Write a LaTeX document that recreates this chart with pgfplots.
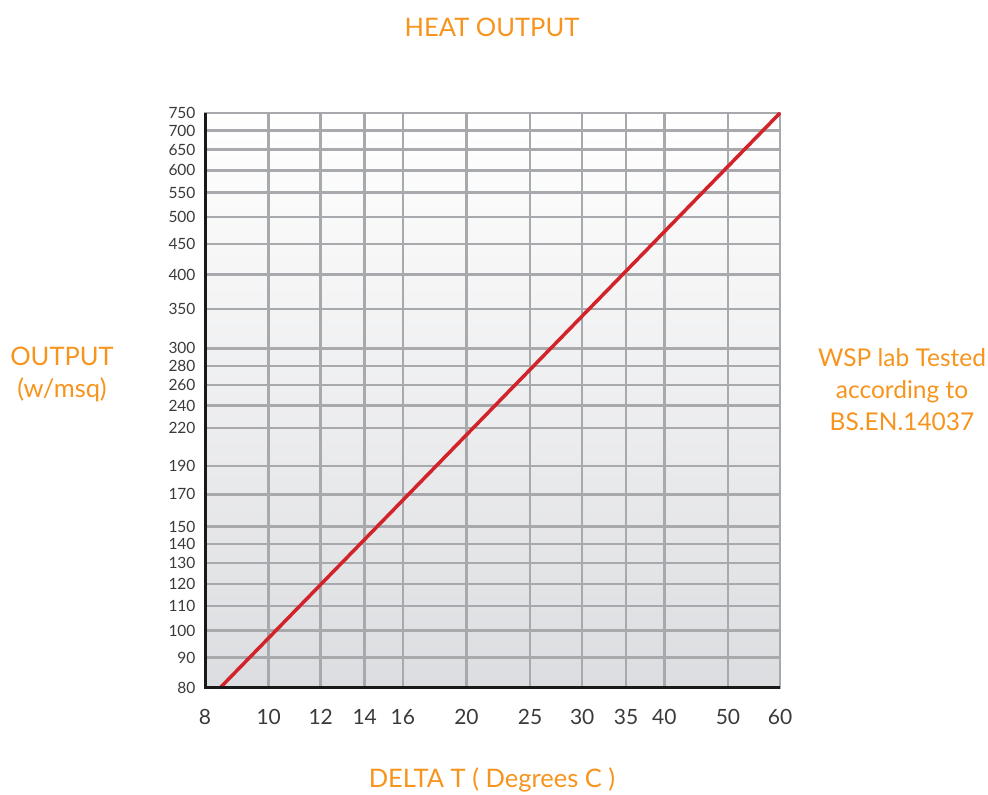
\documentclass[border=0pt]{standalone}
\usepackage{fontspec}
\setmainfont{Lato}
\usepackage{pgfplots}
\pgfplotsset{compat=1.18}
\definecolor{orng}{HTML}{F7941D}
\definecolor{gridc}{HTML}{A7A9AC}
\definecolor{redl}{HTML}{D2232A}
\definecolor{bgb}{HTML}{DCDDE0}
\definecolor{txt}{HTML}{3A3A3A}
\begin{document}
\begin{tikzpicture}
\path[use as bounding box] (-205pt,-107pt) rectangle (783pt,688pt);
\begin{axis}[
  at={(0pt,0pt)}, anchor=south west,
  scale only axis, width=575pt, height=575pt,
  xmode=log, ymode=log,
  xmin=8, xmax=60, ymin=80, ymax=750,
  xtick={8,10,12,14,16,20,25,30,35,40,50,60},
  xticklabels={8,10,12,14,16,20,25,30,35,40,50,60},
  ytick={80,90,100,110,120,130,140,150,170,190,220,240,260,280,300,350,400,450,500,550,600,650,700,750},
  yticklabels={80,90,100,110,120,130,140,150,170,190,220,240,260,280,300,350,400,450,500,550,600,650,700,750},
  minor tick num=0,
  major tick length=0pt,
  grid=major,
  major grid style={gridc, line width=2.5pt},
  axis line style={gridc, line width=2.5pt},
  axis background/.style={top color=white, bottom color=bgb},
  /pgf/number format/assume math mode=true,
  xticklabel style={font=\fontsize{21}{24}\selectfont, text=txt, yshift=-18pt},
  yticklabel style={font=\fontsize{15.5}{17}\selectfont, text=txt, xshift=-6pt},
  clip=false,
]
\addplot[redl, line width=3.5pt] coordinates {(8.43,80) (60,750)};
\draw[black!90, line width=3pt] (rel axis cs:0,1) -- (rel axis cs:0,0) -- (rel axis cs:1,0);
\end{axis}
\node[text=orng, font=\fontsize{25.5}{30}\selectfont] at (287pt,661pt) {HEAT OUTPUT};
\node[text=orng, font=\fontsize{25.5}{32}\selectfont, align=center] at (-143pt,314pt) {OUTPUT\\(w/msq)};
\node[text=orng, font=\fontsize{24.5}{32}\selectfont, align=center] at (697pt,298pt) {WSP lab Tested\\according to\\BS.EN.14037};
\node[text=orng, font=\fontsize{25.5}{30}\selectfont] at (287pt,-92pt) {DELTA T ( Degrees C )};
\end{tikzpicture}
\end{document}
